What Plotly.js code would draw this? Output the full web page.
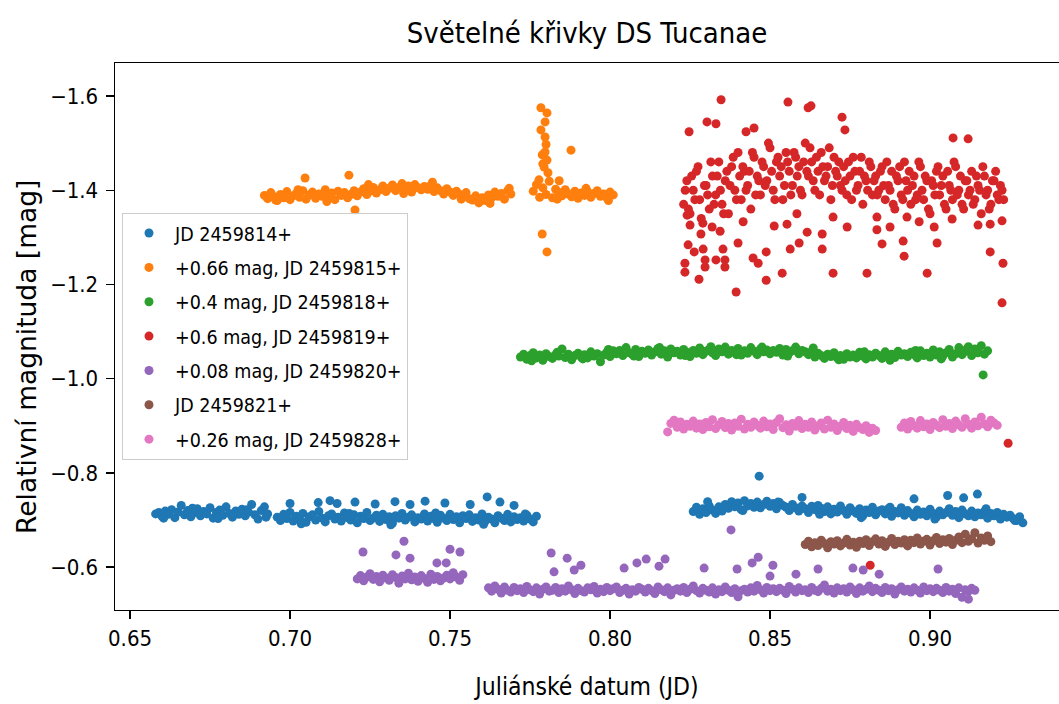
<!DOCTYPE html>
<html>
<head>
<meta charset="utf-8">
<script src="https://cdn.plot.ly/plotly-3.0.1.min.js"></script>
<style>html,body{margin:0;padding:0;background:#fff;}#chart{width:1059px;height:704px;}</style>
</head>
<body>
<div id="chart"></div>
<script>
// ---------- tick labels ----------
const xTickVals = [0.65, 0.70, 0.75, 0.80, 0.85, 0.90];
const xTickText = ['0.65', '0.70', '0.75', '0.80', '0.85', '0.90'];
const yTickVals = [-1.6, -1.4, -1.2, -1.0, -0.8, -0.6];
const yTickText = ['\u22121.6', '\u22121.4', '\u22121.2', '\u22121.0', '\u22120.8', '\u22120.6'];

// ---------- series names ----------
const seriesNames = ['JD 2459814+', '+0.66 mag, JD 2459815+', '+0.4 mag, JD 2459818+', '+0.6 mag, JD 2459819+',
  '+0.08 mag, JD 2459820+', 'JD 2459821+', '+0.26 mag, JD 2459828+'];

// ---------- JD 2459814+ (blue) ----------
const blueX = [
  .658,.659,.660,.661,.662,.663,.664,.665,.666,.667,.668,.669,.670,.671,.672,.673,.674,.675,.676,.677,
  .678,.679,.680,.681,.682,.683,.684,.685,.686,.687,.688,.689,.690,.691,.692,.693,
  .696,.697,.698,.699,.700,.701,.702,.703,.704,.705,
  .706,.707,.708,.709,.710,.711,.712,.713,.714,.715,
  .716,.717,.718,.719,.720,.721,.722,.723,.724,.725,
  .726,.727,.728,.729,.730,.731,.732,.733,.734,.735,
  .736,.737,.738,.739,.740,.741,.742,.743,.744,.745,
  .746,.747,.748,.749,.750,.751,.752,.753,.754,.755,
  .756,.757,.758,.759,.760,.761,.762,.763,.764,.765,
  .766,.767,.768,.769,.770,.771,.772,.773,.774,.775,
  .776,.777,
  .826,.827,.828,.829,.830,.831,.832,.833,.834,.835,
  .836,.837,.838,.839,.840,.841,.842,.843,.844,.845,
  .846,.847,.848,.849,.850,.851,.852,.853,.854,.855,
  .856,.857,.858,.859,.860,.861,.862,.863,.864,.865,
  .866,.867,.868,.869,.870,.871,.872,.873,.874,.875,
  .876,.877,.878,.879,.880,.881,.882,.883,.884,.885,
  .886,.887,.888,.889,.890,.891,.892,.893,.894,.895,
  .896,.897,.898,.899,.900,.901,.902,.903,.904,.905,
  .906,.907,.908,.909,.910,.911,.912,.913,.914,.915,
  .916,.917,.918,.919,.920,.921,.922,.923,.924,.925,
  .926,.927,.928,.929,
  .7000,.7088,.7125,.7147,.7203,.7266,.7328,.7375,.7422,.7484,.7563,.7616,.7656,.7700,.8466,.9055,.9105,.9148,.8950,.8600,
  .6605,.6695,.6775,.6865,.6925,.7035,.7185,.7315,.7455,.7605,.7735,.8305,.8415,.8525,.8655,.8785,.8875,.9015,.9175,.9265
];
const blueY = [
  -.713,-.716,-.708,-.719,-.712,-.722,-.705,-.717,-.731,-.711,-.720,-.707,-.715,-.724,-.709,-.718,-.713,-.726,-.704,-.716,
  -.721,-.710,-.728,-.714,-.706,-.719,-.712,-.723,-.709,-.717,-.733,-.711,-.702,-.720,-.728,-.713,
  -.706,-.699,-.712,-.703,-.716,-.698,-.708,-.701,-.714,-.695,
  -.707,-.711,-.700,-.718,-.704,-.696,-.709,-.713,-.702,-.706,
  -.698,-.715,-.705,-.700,-.711,-.694,-.708,-.703,-.716,-.699,
  -.704,-.710,-.697,-.712,-.701,-.707,-.693,-.709,-.704,-.714,
  -.700,-.706,-.711,-.696,-.705,-.702,-.713,-.698,-.708,-.703,
  -.695,-.710,-.704,-.699,-.712,-.701,-.707,-.694,-.709,-.703,
  -.711,-.697,-.705,-.700,-.713,-.698,-.706,-.702,-.694,-.709,
  -.704,-.699,-.712,-.696,-.707,-.701,-.705,-.698,-.710,-.702,
  -.696,-.708,
  -.718,-.727,-.712,-.724,-.716,-.730,-.721,-.714,-.728,-.719,
  -.733,-.725,-.739,-.728,-.736,-.722,-.741,-.730,-.735,-.727,
  -.738,-.726,-.733,-.740,-.729,-.735,-.724,-.737,-.731,-.727,
  -.720,-.733,-.726,-.719,-.730,-.724,-.716,-.729,-.722,-.731,
  -.725,-.718,-.728,-.713,-.723,-.717,-.730,-.720,-.712,-.726,
  -.719,-.714,-.724,-.709,-.721,-.716,-.727,-.711,-.719,-.722,
  -.713,-.724,-.708,-.718,-.715,-.726,-.710,-.720,-.714,-.707,
  -.721,-.712,-.717,-.709,-.723,-.714,-.706,-.719,-.711,-.716,
  -.724,-.710,-.718,-.705,-.721,-.713,-.709,-.719,-.707,-.715,
  -.711,-.718,-.704,-.714,-.709,-.716,-.702,-.712,-.706,-.710,
  -.703,-.699,-.707,-.694,
  -.735,-.737,-.741,-.735,-.738,-.734,-.739,-.733,-.740,-.736,-.733,-.749,-.738,-.731,-.793,-.752,-.747,-.755,-.745,-.748,
  -.704,-.725,-.703,-.722,-.706,-.692,-.714,-.690,-.715,-.691,-.713,-.739,-.720,-.738,-.712,-.705,-.727,-.702,-.724,-.699
];

// ---------- +0.66 mag, JD 2459815+ (orange) ----------
const orangeX = [
  .692,.693,.694,.695,.696,.697,.698,.699,.700,.701,
  .702,.703,.704,.705,.706,.707,.708,.709,.710,.711,
  .712,.713,.714,.715,.716,.717,.718,.719,.720,.721,
  .722,.723,.724,.725,.726,.727,.728,.729,.730,.731,
  .732,.733,.734,.735,.736,.737,.738,.739,.740,.741,
  .742,.743,.744,.745,.746,.747,.748,.749,.750,.751,
  .752,.753,.754,.755,.756,.757,.758,.759,.760,.761,
  .762,.763,.764,.765,.766,.767,.768,.769,
  .7047,.7184,.7203,
  .776,.777,.778,.779,.780,.781,.782,.783,.784,.785,
  .786,.787,.788,.789,.790,.791,.792,.793,.794,.795,
  .796,.797,.798,.799,.800,.801,
  .7784,.7803,.7797,.7784,.7797,.7797,.7788,.7803,.7794,.7806,.7778,.7878,.7788,.7803,.7841,.7790,.7800,
  .6955,.7025,.7115,.7245,.7355,.7445,.7535,.7625,.7685,.7835,.7925,.7995
];
const orangeY = [
  -1.389,-1.382,-1.395,-1.386,-1.378,-1.391,-1.384,-1.397,-1.380,-1.388,
  -1.393,-1.385,-1.399,-1.381,-1.390,-1.396,-1.383,-1.392,-1.387,-1.401,
  -1.386,-1.394,-1.380,-1.398,-1.389,-1.395,-1.384,-1.391,-1.399,-1.388,
  -1.396,-1.403,-1.391,-1.398,-1.406,-1.394,-1.401,-1.409,-1.397,-1.404,
  -1.411,-1.399,-1.406,-1.414,-1.402,-1.409,-1.396,-1.412,-1.405,-1.401,
  -1.408,-1.402,-1.410,-1.397,-1.405,-1.399,-1.392,-1.403,-1.396,-1.389,
  -1.398,-1.391,-1.386,-1.395,-1.382,-1.379,-1.388,-1.373,-1.384,-1.378,
  -1.390,-1.384,-1.396,-1.387,-1.393,-1.381,-1.399,-1.392,
  -1.426,-1.432,-1.358,
  -1.398,-1.412,-1.385,-1.405,-1.391,-1.419,-1.384,-1.402,-1.395,-1.388,
  -1.401,-1.392,-1.386,-1.398,-1.383,-1.394,-1.389,-1.397,-1.385,-1.393,
  -1.399,-1.387,-1.392,-1.384,-1.396,-1.390,
  -1.575,-1.564,-1.545,-1.528,-1.513,-1.481,-1.475,-1.464,-1.449,-1.437,-1.422,-1.485,-1.307,-1.269,-1.420,-1.456,-1.497,
  -1.379,-1.401,-1.376,-1.412,-1.393,-1.417,-1.381,-1.372,-1.404,-1.381,-1.404,-1.378
];

// ---------- +0.4 mag, JD 2459818+ (green) ----------
const greenX = [
  .772,.773,.774,.775,.776,.777,.778,.779,.780,.781,
  .782,.783,.784,.785,.786,.787,.788,.789,.790,.791,
  .792,.793,.794,.795,.796,.797,.798,.799,.800,.801,
  .802,.803,.804,.805,.806,.807,.808,.809,.810,.811,
  .812,.813,.814,.815,.816,.817,.818,.819,.820,.821,
  .822,.823,.824,.825,.826,.827,.828,.829,.830,.831,
  .832,.833,.834,.835,.836,.837,.838,.839,.840,.841,
  .842,.843,.844,.845,.846,.847,.848,.849,.850,.851,
  .852,.853,.854,.855,.856,.857,.858,.859,.860,.861,
  .862,.863,.864,.865,.866,.867,.868,.869,.870,.871,
  .872,.873,.874,.875,.876,.877,.878,.879,.880,.881,
  .882,.883,.884,.885,.886,.887,.888,.889,.890,.891,
  .892,.893,.894,.895,.896,.897,.898,.899,.900,.901,
  .902,.903,.904,.905,.906,.907,.908,.909,.910,.911,
  .912,.913,.914,.915,.916,.917,.918,
  .9166,
  .7755,.7835,.7915,.7995,.8075,.8155,.8235,.8315,.8395,.8475,.8555,.8635,.8715,.8795,.8875,.8955,.9035,.9115
];
const greenY = [
  -1.046,-1.052,-1.041,-1.049,-1.055,-1.044,-1.050,-1.039,-1.053,-1.047,
  -1.043,-1.051,-1.048,-1.063,-1.045,-1.052,-1.040,-1.049,-1.054,-1.046,
  -1.051,-1.044,-1.057,-1.048,-1.053,-1.036,-1.050,-1.056,-1.047,-1.059,
  -1.053,-1.060,-1.049,-1.066,-1.055,-1.051,-1.062,-1.047,-1.058,-1.054,
  -1.061,-1.050,-1.057,-1.064,-1.052,-1.059,-1.046,-1.063,-1.055,-1.058,
  -1.050,-1.062,-1.056,-1.047,-1.060,-1.054,-1.065,-1.051,-1.058,-1.062,
  -1.055,-1.049,-1.063,-1.057,-1.067,-1.052,-1.060,-1.056,-1.064,-1.050,
  -1.059,-1.054,-1.066,-1.058,-1.051,-1.063,-1.057,-1.061,-1.053,-1.060,
  -1.056,-1.064,-1.050,-1.062,-1.055,-1.059,-1.067,-1.053,-1.060,-1.057,
  -1.051,-1.058,-1.046,-1.054,-1.049,-1.043,-1.052,-1.047,-1.055,-1.044,
  -1.049,-1.041,-1.053,-1.046,-1.050,-1.044,-1.056,-1.048,-1.042,-1.051,
  -1.046,-1.054,-1.049,-1.043,-1.057,-1.047,-1.052,-1.045,-1.058,-1.050,
  -1.053,-1.047,-1.056,-1.051,-1.044,-1.059,-1.049,-1.054,-1.046,-1.061,
  -1.050,-1.057,-1.048,-1.055,-1.062,-1.046,-1.053,-1.066,-1.051,-1.058,
  -1.068,-1.049,-1.063,-1.055,-1.070,-1.052,-1.059,
  -1.008,
  -1.038,-1.056,-1.042,-1.062,-1.048,-1.066,-1.049,-1.068,-1.051,-1.067,-1.048,-1.065,-1.040,-1.057,-1.039,-1.060,-1.042,-1.063
];

// ---------- +0.6 mag, JD 2459819+ (red) ----------
const redX = [
  .823,.824,.825,.826,.827,.828,.829,.830,.831,.832,
  .833,.834,.835,.836,.837,.838,.839,.840,.841,.842,
  .843,.844,.845,.846,.847,.848,.849,.850,.851,.852,
  .853,.854,.855,.856,.857,.858,.859,.860,.861,.862,
  .863,.864,.865,.866,.867,.868,.869,.870,.871,.872,
  .873,.874,.875,.876,.877,.878,.879,.880,.881,.882,
  .883,.884,.885,.886,.887,.888,.889,.890,.891,.892,
  .893,.894,.895,.896,.897,.898,.899,.900,.901,.902,
  .903,.904,.905,.906,.907,.908,.909,.910,.911,.912,
  .913,.914,.915,.916,.917,.918,.919,.920,.921,.922,
  .923,
  .8235,.8245,.8255,.8265,.8275,.8285,.8295,.8305,.8315,.8325,
  .8335,.8345,.8355,.8365,.8375,.8385,.8395,.8405,.8415,.8425,
  .8435,.8445,.8455,.8465,.8475,.8485,.8495,.8505,.8515,.8525,
  .8535,.8545,.8555,.8565,.8575,.8585,.8595,.8605,.8615,.8625,
  .8635,.8645,.8655,.8665,.8675,.8685,.8695,.8705,.8715,.8725,
  .8735,.8745,.8755,.8765,.8775,.8785,.8795,.8805,.8815,.8825,
  .8835,.8845,.8855,.8865,.8875,.8885,.8895,.8905,.8915,.8925,
  .8935,.8945,.8955,.8965,.8975,.8985,.8995,.9005,.9015,.9025,
  .9035,.9045,.9055,.9065,.9075,.9085,.9095,.9105,.9115,.9125,
  .9135,.9145,.9155,.9165,.9175,.9185,.9195,.9205,.9215,.9225,
  .8347,.8556,.8619,.8628,.8247,.8303,.8331,.8725,.8734,.8450,
  .8425,.9072,.9119,.8394,.9225,.9228,.8234,.8234,.8278,.8488,
  .8538,.8697,.8803,.8991,.9188,.8919,.8916,.8850,.9022,.8663,
  .8663,.8616,.8591,.8563,.8447,.8463,.8488,.8400,.8353,.8359,
  .8359,.8331,.8297,.8297,.8291,.8263,.8244,.8284,.8741,.8834,
  .8875,.9013,.9188,.9225,.9150,.9069,.8966,.8928,.8834,.8697,
  .8584,.8553,.8513,.8416,.8344,.8319,.8250,.8241,
  .8813,.9244
];
const redY = [
  -1.37,-1.42,-1.35,-1.40,-1.44,-1.38,-1.33,-1.41,-1.36,-1.43,
  -1.39,-1.46,-1.37,-1.42,-1.35,-1.45,-1.40,-1.48,-1.38,-1.44,
  -1.41,-1.36,-1.47,-1.43,-1.39,-1.45,-1.42,-1.49,-1.40,-1.46,
  -1.43,-1.38,-1.48,-1.44,-1.41,-1.47,-1.45,-1.39,-1.50,-1.43,
  -1.46,-1.40,-1.44,-1.48,-1.42,-1.45,-1.38,-1.47,-1.43,-1.41,
  -1.45,-1.39,-1.43,-1.47,-1.40,-1.44,-1.37,-1.42,-1.46,-1.39,
  -1.43,-1.40,-1.45,-1.38,-1.41,-1.44,-1.36,-1.42,-1.39,-1.46,
  -1.40,-1.37,-1.43,-1.39,-1.45,-1.38,-1.42,-1.35,-1.41,-1.44,
  -1.39,-1.43,-1.36,-1.41,-1.38,-1.45,-1.40,-1.37,-1.42,-1.39,
  -1.44,-1.38,-1.41,-1.35,-1.43,-1.40,-1.37,-1.42,-1.39,-1.41,
  -1.38,
  -1.40,-1.36,-1.43,-1.38,-1.45,-1.34,-1.41,-1.39,-1.46,-1.37,
  -1.43,-1.40,-1.35,-1.44,-1.41,-1.47,-1.38,-1.43,-1.45,-1.40,
  -1.44,-1.48,-1.39,-1.42,-1.46,-1.41,-1.50,-1.44,-1.38,-1.47,
  -1.45,-1.41,-1.46,-1.39,-1.48,-1.43,-1.40,-1.46,-1.44,-1.49,
  -1.42,-1.47,-1.39,-1.45,-1.43,-1.49,-1.41,-1.44,-1.46,-1.40,
  -1.42,-1.46,-1.38,-1.44,-1.41,-1.47,-1.43,-1.40,-1.45,-1.42,
  -1.39,-1.44,-1.41,-1.46,-1.40,-1.37,-1.43,-1.45,-1.38,-1.42,
  -1.44,-1.41,-1.38,-1.46,-1.40,-1.43,-1.36,-1.42,-1.39,-1.45,
  -1.41,-1.37,-1.44,-1.40,-1.46,-1.39,-1.43,-1.36,-1.42,-1.40,
  -1.37,-1.43,-1.40,-1.45,-1.39,-1.36,-1.42,-1.44,-1.38,-1.40,
  -1.592,-1.587,-1.575,-1.579,-1.524,-1.545,-1.541,-1.555,-1.528,-1.532,
  -1.524,-1.511,-1.509,-1.184,-1.161,-1.245,-1.245,-1.226,-1.211,-1.209,
  -1.224,-1.224,-1.224,-1.224,-1.269,-1.260,-1.292,-1.286,-1.288,-1.275,
  -1.307,-1.311,-1.288,-1.275,-1.256,-1.245,-1.269,-1.288,-1.275,-1.252,
  -1.237,-1.252,-1.252,-1.237,-1.275,-1.269,-1.284,-1.307,-1.322,-1.316,
  -1.322,-1.322,-1.328,-1.335,-1.326,-1.339,-1.333,-1.343,-1.343,-1.343,
  -1.350,-1.328,-1.324,-1.333,-1.313,-1.322,-1.326,-1.347,
  -0.604,-0.863
];

// ---------- +0.08 mag, JD 2459820+ (purple) ----------
const purpleX = [
  .721,.722,.723,.724,.725,.726,.727,.728,.729,.730,
  .731,.732,.733,.734,.735,.736,.737,.738,.739,.740,
  .741,.742,.743,.744,.745,.746,.747,.748,.749,.750,
  .751,.752,.753,.754,
  .7228,.7356,.7331,.7375,.7459,.7488,.7500,.7531,
  .762,.763,.764,.765,.766,.767,.768,.769,.770,.771,
  .772,.773,.774,.775,.776,.777,.778,.779,.780,.781,
  .782,.783,.784,.785,.786,.787,.788,.789,.790,.791,
  .792,.793,.794,.795,.796,.797,.798,.799,.800,.801,
  .802,.803,.804,.805,.806,.807,.808,.809,.810,.811,
  .812,.813,.814,.815,.816,.817,.818,.819,.820,.821,
  .822,.823,.824,.825,.826,.827,.828,.829,.830,.831,
  .832,.833,.834,.835,.836,.837,.838,.839,.840,.841,
  .842,.843,.844,.845,.846,.847,.848,.849,.850,.851,
  .852,.853,.854,.855,.856,.857,.858,.859,.860,.861,
  .862,.863,.864,.865,.866,.867,.868,.869,.870,.871,
  .872,.873,.874,.875,.876,.877,.878,.879,.880,.881,
  .882,.883,.884,.885,.886,.887,.888,.889,.890,.891,
  .892,.893,.894,.895,.896,.897,.898,.899,.900,.901,
  .902,.903,.904,.905,.906,.907,.908,.909,.910,.911,
  .912,.913,.914,
  .7816,.7866,.7825,.7888,.7909,.8044,.8084,.8113,.8153,.8172,
  .8294,.8378,.8397,.8444,.8463,.8509,.8500,.8581,.8650,.8759,
  .8791,.8841,.9025,.9120
];
const purpleY = [
  -.575,-.582,-.571,-.579,-.586,-.574,-.580,-.569,-.583,-.577,
  -.572,-.584,-.578,-.566,-.581,-.575,-.587,-.573,-.579,-.570,
  -.582,-.576,-.568,-.585,-.574,-.580,-.571,-.577,-.583,-.575,
  -.588,-.579,-.572,-.584,
  -.632,-.655,-.626,-.619,-.609,-.609,-.638,-.632,
  -.556,-.549,-.560,-.553,-.545,-.558,-.551,-.547,-.557,-.550,
  -.554,-.546,-.559,-.552,-.548,-.556,-.543,-.553,-.558,-.549,
  -.551,-.557,-.546,-.554,-.549,-.560,-.552,-.544,-.555,-.550,
  -.547,-.556,-.552,-.559,-.545,-.553,-.548,-.557,-.550,-.554,
  -.558,-.546,-.551,-.555,-.543,-.552,-.549,-.557,-.553,-.547,
  -.555,-.550,-.544,-.558,-.552,-.548,-.556,-.541,-.551,-.554,
  -.549,-.557,-.546,-.553,-.560,-.550,-.545,-.555,-.551,-.547,
  -.556,-.543,-.552,-.548,-.558,-.551,-.546,-.554,-.537,-.550,
  -.553,-.547,-.556,-.549,-.561,-.552,-.545,-.557,-.550,-.554,
  -.548,-.555,-.551,-.544,-.559,-.553,-.547,-.556,-.550,-.552,
  -.546,-.557,-.551,-.548,-.555,-.562,-.549,-.553,-.545,-.556,
  -.550,-.554,-.547,-.558,-.552,-.544,-.556,-.549,-.553,-.560,
  -.548,-.555,-.551,-.546,-.557,-.550,-.554,-.543,-.552,-.558,
  -.549,-.553,-.547,-.556,-.551,-.545,-.558,-.550,-.554,-.548,
  -.555,-.551,-.546,-.557,-.549,-.553,-.544,-.556,-.536,-.552,
  -.549,-.555,-.551,
  -.630,-.619,-.590,-.594,-.604,-.598,-.609,-.617,-.602,-.617,
  -.598,-.679,-.596,-.609,-.621,-.604,-.581,-.585,-.596,-.598,
  -.594,-.585,-.596,-.532
];

// ---------- JD 2459821+ (brown) ----------
const brownX = [
  .861,.862,.863,.864,.865,.866,.867,.868,.869,.870,
  .871,.872,.873,.874,.875,.876,.877,.878,.879,.880,
  .881,.882,.883,.884,.885,.886,.887,.888,.889,.890,
  .891,.892,.893,.894,.895,.896,.897,.898,.899,.900,
  .901,.902,.903,.904,.905,.906,.907,.908,.909,.910,
  .911,.912,.913,.914,.915,.916,.917,.918,.919
];
const brownY = [
  -.648,-.655,-.643,-.652,-.646,-.657,-.650,-.641,-.654,-.649,
  -.656,-.645,-.651,-.659,-.647,-.653,-.642,-.655,-.650,-.658,
  -.646,-.654,-.660,-.649,-.656,-.644,-.653,-.661,-.648,-.655,
  -.651,-.658,-.645,-.657,-.652,-.662,-.649,-.655,-.659,-.647,
  -.656,-.663,-.650,-.658,-.653,-.661,-.648,-.657,-.664,-.652,
  -.670,-.655,-.660,-.673,-.651,-.662,-.657,-.666,-.654
];

// ---------- +0.26 mag, JD 2459828+ (pink) ----------
const pinkX = [
  .818,.819,.820,.821,.822,.823,.824,.825,.826,.827,
  .828,.829,.830,.831,.832,.833,.834,.835,.836,.837,
  .838,.839,.840,.841,.842,.843,.844,.845,.846,.847,
  .848,.849,.850,.851,.852,.853,.854,.855,.856,.857,
  .858,.859,.860,.861,.862,.863,.864,.865,.866,.867,
  .868,.869,.870,.871,.872,.873,.874,.875,.876,.877,
  .878,.879,.880,.881,.882,.883,
  .891,.892,.893,.894,.895,.896,.897,.898,.899,.900,
  .901,.902,.903,.904,.905,.906,.907,.908,.909,.910,
  .911,.912,.913,.914,.915,.916,.917,.918,.919,.920,
  .921
];
const pinkY = [
  -.887,-.905,-.912,-.897,-.908,-.893,-.903,-.899,-.910,-.895,
  -.904,-.892,-.907,-.898,-.913,-.894,-.902,-.909,-.896,-.905,
  -.891,-.906,-.899,-.914,-.893,-.903,-.897,-.908,-.901,-.895,
  -.910,-.898,-.904,-.892,-.907,-.915,-.896,-.902,-.889,-.905,
  -.899,-.911,-.894,-.903,-.897,-.908,-.891,-.900,-.906,-.893,
  -.912,-.897,-.904,-.890,-.899,-.907,-.894,-.901,-.888,-.903,
  -.896,-.892,-.900,-.886,-.895,-.890,
  -.897,-.906,-.893,-.909,-.900,-.895,-.911,-.898,-.904,-.892,
  -.907,-.901,-.896,-.913,-.899,-.905,-.894,-.910,-.902,-.897,
  -.915,-.903,-.895,-.908,-.900,-.918,-.904,-.898,-.912,-.906,
  -.901
];

const seriesColors = ['#1f77b4', '#ff7f0e', '#2ca02c', '#d62728', '#9467bd', '#8c564b', '#e377c2'];
const seriesX = [blueX, orangeX, greenX, redX, purpleX, brownX, pinkX];
const seriesY = [blueY, orangeY, greenY, redY, purpleY, brownY, pinkY];

const traces = seriesNames.map((name, i) => ({
  type: 'scatter',
  mode: 'markers',
  name: name,
  legendgroup: 'g' + i,
  x: seriesX[i],
  y: seriesY[i],
  marker: { color: seriesColors[i], size: 9, line: { width: 0 } },
  hoverinfo: 'skip'
}));

const condensed = 'DejaVu Sans Condensed, DejaVu Sans, sans-serif';
const axisFont = { family: condensed, size: 22, color: '#000' };

const layout = {
  width: 1059,
  height: 704,
  paper_bgcolor: '#fff',
  plot_bgcolor: '#fff',
  margin: { l: 115, r: 0, t: 63, b: 94 },
  font: { family: condensed, color: '#000' },
  title: {
    text: 'Světelné křivky DS Tucanae',
    font: { family: condensed, size: 29, color: '#000' },
    x: 0.5, xref: 'paper', xanchor: 'center',
    y: 0.953, yref: 'container', yanchor: 'middle'
  },
  xaxis: {
    range: [0.6453, 0.9403],
    tickmode: 'array', tickvals: xTickVals, ticktext: xTickText,
    ticks: 'outside', ticklen: 8, tickwidth: 1.3, tickcolor: '#000',
    showline: true, linecolor: '#000', linewidth: 1.4, mirror: true,
    showgrid: false, zeroline: false,
    tickfont: axisFont,
    title: { text: 'Juliánské datum (JD)', font: { family: condensed, size: 24.5, color: '#000' }, standoff: 28 }
  },
  yaxis: {
    range: [-0.509, -1.670],
    tickmode: 'array', tickvals: yTickVals, ticktext: yTickText,
    ticks: 'outside', ticklen: 8, tickwidth: 1.3, tickcolor: '#000',
    showline: true, linecolor: '#000', linewidth: 1.4, mirror: false,
    showgrid: false, zeroline: false,
    tickfont: axisFont,
    ticklabelstandoff: 3
  },
  annotations: [{
    text: 'Relativní magnituda [mag]',
    textangle: -90,
    xref: 'paper', yref: 'paper',
    x: -0.0943, y: 0.4625, xanchor: 'center', yanchor: 'middle',
    showarrow: false,
    font: { family: 'DejaVu Sans, sans-serif', size: 26.5, color: '#000' }
  }],
  showlegend: true,
  legend: {
    x: 0.0074, y: 0.726, xanchor: 'left', yanchor: 'top',
    bgcolor: 'rgba(255,255,255,0.85)', bordercolor: '#cccccc', borderwidth: 1,
    font: { family: condensed, size: 19.5, color: '#000' },
    traceorder: 'grouped', tracegroupgap: 6, itemwidth: 42
  }
};

Plotly.newPlot('chart', traces, layout, { displayModeBar: false, staticPlot: true });
</script>
</body>
</html>
